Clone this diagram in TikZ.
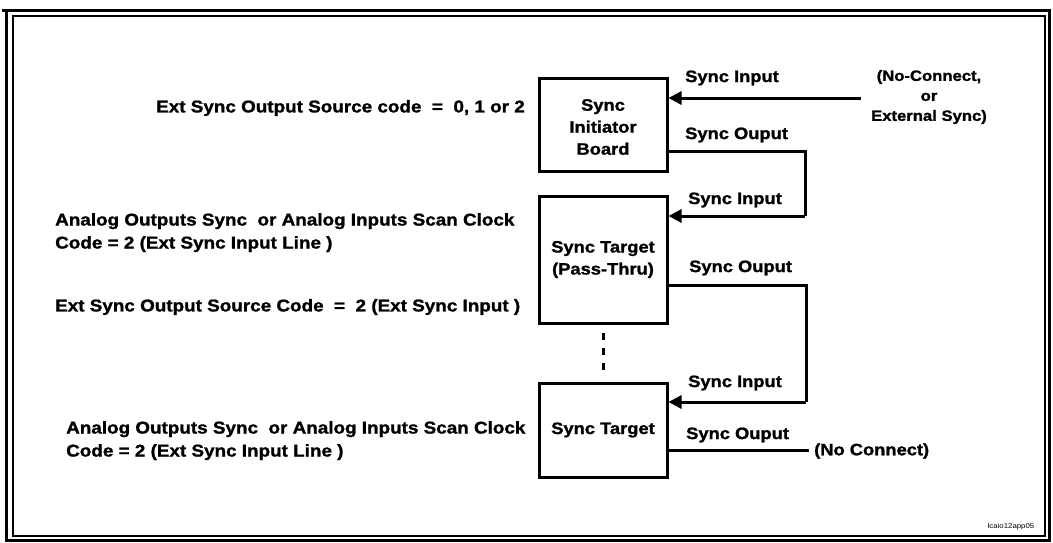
\documentclass[tikz,border=0pt]{standalone}
\usepackage{fontspec}
\setmainfont{Liberation Sans}[FakeStretch=1.12]
\newfontfamily\heavyfont{Liberation Sans}[FakeStretch=1.11,BoldFeatures={FakeBold=1.3}]
\usetikzlibrary{arrows.meta}
\begin{document}
\begin{tikzpicture}[x=1pt,y=-1pt,
  lbl/.style={font=\heavyfont\fontsize{16.5}{22}\selectfont\bfseries, inner sep=0pt},
  big/.style={font=\heavyfont\fontsize{17}{23}\selectfont\bfseries, inner sep=0pt},
  boxnode/.style={draw, line width=3pt, minimum width=128pt, align=center, font=\heavyfont\fontsize{16.5}{22}\selectfont\bfseries, inner sep=0pt},
  wire/.style={line width=3pt},
  arr/.style={line width=3pt, -{Triangle[length=13pt,width=13pt]}}]
\useasboundingbox (0,0) rectangle (1053,542);
% frame
\draw[line width=3pt] (2,10.5) -- (1051,10.5);
\draw[line width=3pt] (6.5,9) -- (6.5,542);
\draw[line width=3pt] (1049.5,9) -- (1049.5,542);
\draw[line width=3pt] (5,540) -- (1051,540);
\draw[line width=2pt] (13,16) rectangle (1045,536);
% boxes
\node[boxnode, minimum height=93pt] (b1) at (603,124.5) {};
\node[lbl, align=center] (b1t) at (603,127) {Sync\\Initiator\\Board};
\node[boxnode, minimum height=127pt] (b2) at (603,259.5) {Sync Target\\(Pass-Thru)};
\node[boxnode, minimum height=94pt] (b3) at (603,430) {Sync Target};
% connector coordinates
\coordinate (ext) at (861,98);
\coordinate (o1) at (667,151);
\coordinate (c1) at (805,151);
\coordinate (c2) at (805,216);
\coordinate (o2) at (667,285);
\coordinate (c3) at (806,285);
\coordinate (c4) at (806,402);
\coordinate (o3) at (667,450);
\coordinate (nc) at (809,450);
% connectors
\draw[arr] (ext) -- (b1.east |- ext);
\draw[wire] (o1) -- (c1) -- (c2);
\draw[arr] (c2) -- (b2.east |- c2);
\draw[wire] (o2) -- (c3) -- (c4);
\draw[arr] (c4) -- (b3.east |- c4);
\draw[wire] (o3) -- (nc);
\coordinate (d1) at (603,333);
\coordinate (d2) at (603,373);
\draw[line width=3pt, dash pattern=on 7pt off 8pt] (d1) -- (d2);
% labels
\node[lbl, anchor=west] (si1) at (685,78) {Sync Input};
\node[lbl, anchor=west] (so1) at (685,135) {Sync Ouput};
\node[lbl, anchor=west] (si2) at (688,200) {Sync Input};
\node[lbl, anchor=west] (so2) at (689,268) {Sync Ouput};
\node[lbl, anchor=west] (si3) at (688,383) {Sync Input};
\node[lbl, anchor=west] (so3) at (686,435) {Sync Ouput};
\node[lbl, anchor=west] (ncl) at (814,451) {(No Connect)};
\node[lbl, align=center, font=\heavyfont\fontsize{15}{20}\selectfont\bfseries] (ext1) at (929,97) {(No-Connect,\\or\\External Sync)};
% left texts
\node[big, anchor=east] (t1) at (525,108) {Ext Sync Output Source code \ = \ 0, 1 or 2};
\node[big, anchor=north west, align=left] (t2) at (55,213) {Analog Outputs Sync \ or Analog Inputs Scan Clock\\Code = 2 (Ext Sync Input Line )};
\node[big, anchor=west] (t3) at (55,307) {Ext Sync Output Source Code \ = \ 2 (Ext Sync Input )};
\node[big, anchor=north west, align=left] (t4) at (66,421) {Analog Outputs Sync \ or Analog Inputs Scan Clock\\Code = 2 (Ext Sync Input Line )};
\node[inner sep=0pt, font=\fontsize{7}{8}\selectfont] (id) at (1011,527) {lcaio12app05};
\end{tikzpicture}
\end{document}
